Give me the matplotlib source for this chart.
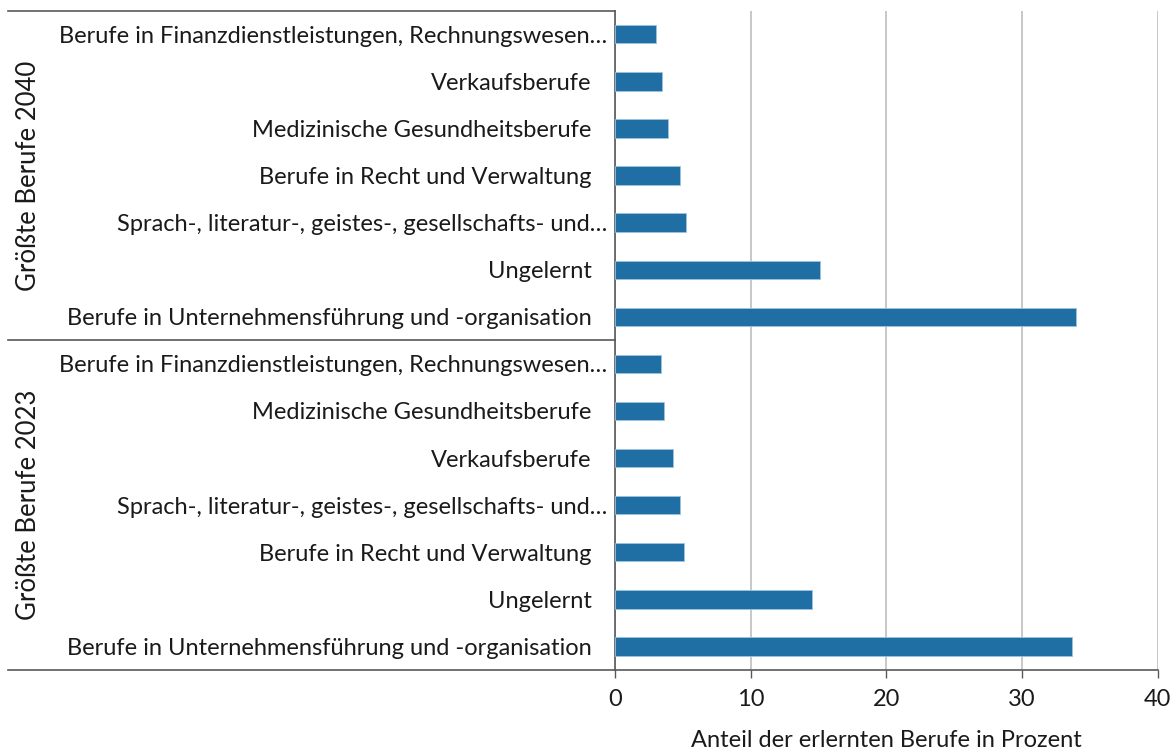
import matplotlib
matplotlib.use('Agg')
import matplotlib.pyplot as plt
import matplotlib.transforms as mtransforms

# Data, top to bottom
groups = ['Größte Berufe 2040', 'Größte Berufe 2023']
labels_2040 = [
    'Berufe in Finanzdienstleistungen, Rechnungswesen…',
    'Verkaufsberufe',
    'Medizinische Gesundheitsberufe',
    'Berufe in Recht und Verwaltung',
    'Sprach-, literatur-, geistes-, gesellschafts- und…',
    'Ungelernt',
    'Berufe in Unternehmensführung und -organisation',
]
values_2040 = [3.0, 3.5, 3.9, 4.8, 5.2, 15.1, 34.0]
labels_2023 = [
    'Berufe in Finanzdienstleistungen, Rechnungswesen…',
    'Medizinische Gesundheitsberufe',
    'Verkaufsberufe',
    'Sprach-, literatur-, geistes-, gesellschafts- und…',
    'Berufe in Recht und Verwaltung',
    'Ungelernt',
    'Berufe in Unternehmensführung und -organisation',
]
values_2023 = [3.4, 3.6, 4.3, 4.8, 5.1, 14.5, 33.7]
xticks = [0, 10, 20, 30, 40]
xlabel = 'Anteil der erlernten Berufe in Prozent'

plt.rcParams['font.family'] = ['Lato', 'DejaVu Sans']
text_color = '#1a1a1a'
axis_color = '#595959'
bar_color = '#1f6fa5'
fs = 17

labels = labels_2040 + labels_2023
values = values_2040 + values_2023
ypos = list(range(len(labels)))

fig = plt.figure(figsize=(11.74, 7.51), dpi=100)
W, H = 1174, 751
x0, x1, ytop, ybot = 615, 1157.5, 10.7, 670
ax = fig.add_axes([x0 / W, 1 - ybot / H, (x1 - x0) / W, (ybot - ytop) / H])

ax.barh(ypos, values, height=0.39, color=bar_color, edgecolor='#9cc3e0',
        linewidth=0.6, zorder=3)
ax.set_ylim(len(labels) - 0.5, -0.5)
ax.set_xlim(0, 40)

ax.set_xticks(xticks)
ax.set_xticklabels([str(t) for t in xticks], fontsize=fs, color=text_color)
ax.tick_params(axis='x', direction='out', length=6, width=1, color=axis_color, pad=8)
ax.grid(axis='x', color='#bfbfbf', linewidth=1.2, zorder=0)
ax.set_axisbelow(True)
ax.set_xlabel(xlabel, fontsize=fs, color=text_color, labelpad=14)

ax.set_yticks(ypos)
ax.set_yticklabels(labels, fontsize=fs, color=text_color)
ax.tick_params(axis='y', length=0, pad=17)
# truncated labels sit a bit further right
for lab in ax.get_yticklabels():
    if lab.get_text().endswith('…'):
        lab.set_transform(lab.get_transform() +
                          mtransforms.ScaledTranslation(16 / 100, 0, fig.dpi_scale_trans))

for s in ['top', 'right']:
    ax.spines[s].set_visible(False)
for s in ['left', 'bottom']:
    ax.spines[s].set_color(axis_color)
    ax.spines[s].set_linewidth(1.2)

# group frame lines of the multi-level category axis
trans = ax.get_yaxis_transform()
left = (8 - x0) / (x1 - x0)
n = len(labels_2040)
for yb in [-0.5, n - 0.5, len(labels) - 0.5]:
    ax.plot([left, 0], [yb, yb], transform=trans, color=axis_color,
            linewidth=1.2, clip_on=False)

# group labels
group_centers = [(n - 1) / 2, n + (len(labels_2023) - 1) / 2]
for g, yc in zip(groups, group_centers):
    ax.text((29 - x0) / (x1 - x0), yc, g, transform=trans, rotation=90,
            ha='center', va='center', fontsize=18.5, color=text_color)

fig.savefig('out.png', dpi=100)
